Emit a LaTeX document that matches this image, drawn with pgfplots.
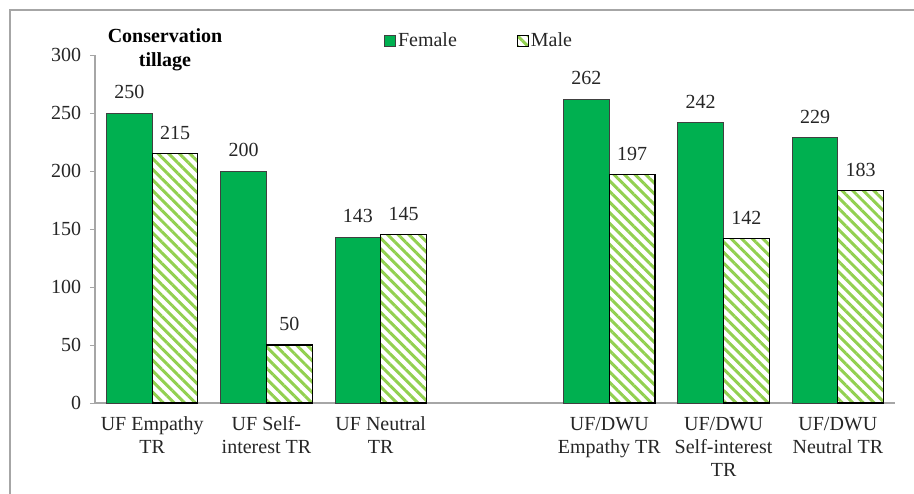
\documentclass[border=0pt]{standalone}
\usepackage{fontspec}
\setmainfont{Liberation Serif}
\usepackage{pgfplots}
\pgfplotsset{compat=1.18}
\usetikzlibrary{patterns.meta}
\definecolor{fgreen}{HTML}{00B050}
\definecolor{mgreen}{HTML}{92D050}
\begin{document}
\fontsize{20bp}{23bp}\selectfont
\begin{tikzpicture}
\useasboundingbox (-95bp,-91bp) rectangle (819bp,403bp);
\draw[gray!70, line width=1.2bp] (-85bp,-120bp) -- (-85bp,393bp) -- (850bp,393bp);
\begin{axis}[
  at={(0,0)}, anchor=south west,
  scale only axis, width=800bp, height=348bp,
  ybar=0pt, bar width=0.4,
  xmin=-0.5, xmax=6.5, ymin=0, ymax=300,
  ytick={0,50,...,300},
  xtick={0,...,6},
  xticklabels={{UF Empathy\\TR},{UF Self-\\interest TR},{UF Neutral\\TR},{},{UF/DWU\\Empathy TR},{UF/DWU\\Self-interest\\TR},{UF/DWU\\Neutral TR}},
  xticklabel style={align=center, font=\fontsize{20bp}{23bp}\selectfont, yshift=-2bp, text=black!85},
  yticklabel style={font=\fontsize{20bp}{23bp}\selectfont, xshift=-2bp, text=black!85},
  /pgf/number format/assume math mode=true,
  major x tick style={draw=none},
  extra x ticks={-0.5,0.5,...,6.5},
  extra x tick labels={},
  extra x tick style={major tick length=5bp, tick style={draw=gray!70, line width=1bp}},
  tick align=outside,
  major tick length=5bp,
  ytick style={draw=gray!70, line width=1bp},
  axis x line*=bottom, axis y line*=left,
  axis line style={draw=gray!70, line width=1.2bp, -},
  nodes near coords,
  every node near coord/.append style={font=\fontsize{20bp}{23bp}\selectfont, yshift=7bp, text=black!85},
  legend style={draw=none, fill=none, at={(0.48,1.04)}, anchor=center, legend columns=2, font=\fontsize{20bp}{23bp}\selectfont, text=black!85, /tikz/every even column/.append style={column sep=58bp}, /tikz/every odd column/.append style={column sep=0bp}},
  legend image code/.code={\draw[#1, line width=1bp] (0bp,-5.5bp) rectangle (11bp,5.5bp);},
  clip=false,
]
\addplot[fill=fgreen, draw=black!75, line width=0.8bp] coordinates {(0,250) (1,200) (2,143) (4,262) (5,242) (6,229)};
\addplot[pattern={Lines[angle=-45, distance=7.5bp, line width=3bp]}, pattern color=mgreen, draw=black, line width=1.2bp] coordinates {(0,215) (1,50) (2,145) (4,197) (5,142) (6,183)};
\legend{Female,Male}
\end{axis}
\node[anchor=north, align=center, font=\bfseries\fontsize{20bp}{24bp}\selectfont, inner sep=0pt] at (70bp,375bp) {Conservation\\tillage};
\end{tikzpicture}
\end{document}
